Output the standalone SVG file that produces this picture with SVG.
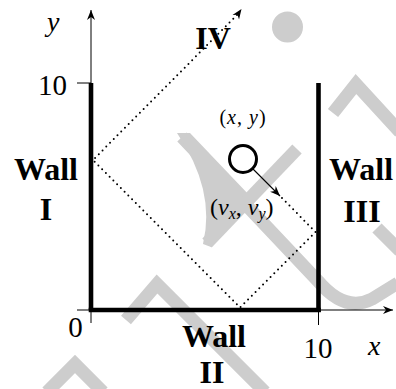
<svg xmlns="http://www.w3.org/2000/svg" width="396" height="389" viewBox="0 0 396 389">
<style>
.wm{fill:none;stroke:#cdcdcd;stroke-width:13;stroke-linecap:butt;stroke-linejoin:miter}
.ax{fill:none;stroke:#000;stroke-width:1}
.wall{fill:none;stroke:#000;stroke-width:4.6;stroke-linejoin:miter;stroke-linecap:butt}
.dot{fill:none;stroke:#000;stroke-width:2;stroke-dasharray:0 5.3;stroke-linecap:round}
text{font-family:"Liberation Serif","DejaVu Serif","Times New Roman",serif;fill:#000}
.num{font-size:29px}
.var{font-style:italic;font-size:28px}
.lbl{font-weight:bold;font-size:32px}
.it{font-style:italic}
</style>
<defs>
<marker id="arr" markerUnits="userSpaceOnUse" orient="auto" refX="0" refY="0" markerWidth="12" markerHeight="10" overflow="visible">
<path d="M0,0 L-10,-4 L-7,0 L-10,4 Z" fill="#000" stroke="none"/>
</marker>
</defs>
<g id="watermark">
<circle cx="287.5" cy="27" r="15.5" fill="#cdcdcd"/>
<path class="wm" d="M182,137 L318,281 Q345,313 372,299 L398,283"/>
<path d="M177,133 L190,133 L250,196 L211,247 L203,244 Q216,190 177,133 Z" fill="#cdcdcd"/>
<path class="wm" d="M297,149 L207,243"/>
<path class="wm" d="M333,113 L356,84 L400,132"/>
<path class="wm" d="M377,228 L400,251"/>
<path class="wm" d="M126,320 L157,284 L265,392"/>
<path class="wm" d="M47,392 L75,364 L103,392"/>
</g>
<g id="axes">
<line class="ax" x1="91" y1="323" x2="91" y2="10" marker-end="url(#arr)"/>
<line class="ax" x1="77" y1="310" x2="393" y2="310" marker-end="url(#arr)"/>
<line class="ax" x1="77" y1="83" x2="91" y2="83"/>
<line class="ax" x1="318.5" y1="310" x2="318.5" y2="325"/>
<text class="var" x="47" y="31">y</text>
<text class="var" x="368" y="355">x</text>
<text class="num" x="67" y="95" text-anchor="end">10</text>
<text class="num" x="75.5" y="337" text-anchor="middle">0</text>
<text class="num" x="318" y="358" text-anchor="middle">10</text>
</g>
<g id="connectors">
<path class="dot" d="M282,198 L315.5,232 L240,307.5 L93,160 L238,14"/>
<line x1="238" y1="14" x2="241.5" y2="9" stroke="none" marker-end="url(#arr)"/>
<line x1="252.5" y1="168.5" x2="280" y2="196" stroke="#000" stroke-width="1.1" marker-end="url(#arr)"/>
</g>
<g id="wall-I">
<path class="wall" d="M91,83 V310"/>
<text class="lbl" x="46" y="180" text-anchor="middle">Wall</text>
<text class="lbl" x="46" y="220" text-anchor="middle">I</text>
</g>
<g id="wall-II">
<path class="wall" d="M88.7,310 H320.8"/>
<text class="lbl" x="214" y="347" text-anchor="middle">Wall</text>
<text class="lbl" x="212" y="383" text-anchor="middle">II</text>
</g>
<g id="wall-III">
<path class="wall" d="M318.5,83 V312"/>
<text class="lbl" x="329" y="180">Wall</text>
<text class="lbl" x="362" y="222" text-anchor="middle">III</text>
</g>
<g id="wall-IV">
<text class="lbl" x="213" y="49" text-anchor="middle">IV</text>
</g>
<g id="ball">
<circle cx="243" cy="159" r="13.5" fill="none" stroke="#000" stroke-width="3"/>
<text x="243" y="124" font-size="20" text-anchor="middle" letter-spacing="1">(<tspan class="it">x</tspan>, <tspan class="it">y</tspan>)</text>
<text x="210" y="215" font-size="24">(<tspan class="it">v</tspan><tspan class="it" font-size="16" dy="4">x</tspan><tspan dy="-4">, </tspan><tspan class="it">v</tspan><tspan class="it" font-size="16" dy="4">y</tspan><tspan dy="-4">)</tspan></text>
</g>
</svg>
